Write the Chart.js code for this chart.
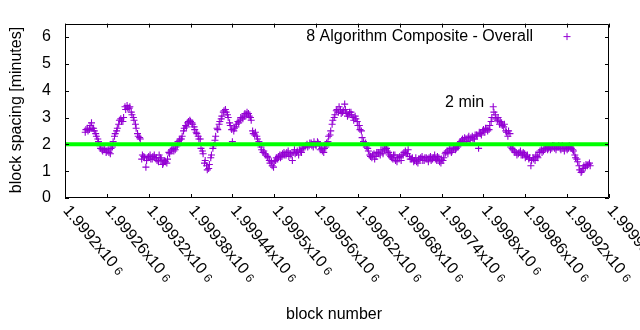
<!DOCTYPE html>
<html><head><meta charset="utf-8">
<script src="https://cdn.jsdelivr.net/npm/chart.js@4/dist/chart.umd.min.js"></script>
<style>html,body{margin:0;padding:0;background:#fff}#wrap{width:640px;height:330px}</style>
</head><body><div id="wrap"><canvas id="c" width="640" height="330"></canvas></div>
<script>
const blockNumbers = [
1999229,1999232,1999235,1999238,1999241,1999244,1999247,1999250,1999253,1999256,
1999259,1999262,1999265,1999268,1999271,1999274,1999277,1999280,1999283,1999286,
1999289,1999292,1999295,1999298,1999301,1999304,1999307,1999310,1999313,1999316,
1999319,1999322,1999325,1999328,1999331,1999334,1999337,1999340,1999343,1999346,
1999349,1999352,1999355,1999358,1999361,1999364,1999367,1999370,1999373,1999376,
1999379,1999382,1999385,1999388,1999391,1999394,1999397,1999400,1999403,1999406,
1999409,1999412,1999415,1999418,1999421,1999424,1999427,1999430,1999433,1999436,
1999439,1999442,1999445,1999448,1999451,1999454,1999457,1999460,1999463,1999466,
1999469,1999472,1999475,1999478,1999481,1999484,1999487,1999490,1999493,1999496,
1999499,1999502,1999505,1999508,1999511,1999514,1999517,1999520,1999523,1999526,
1999529,1999532,1999535,1999538,1999541,1999544,1999547,1999550,1999553,1999556,
1999559,1999562,1999565,1999568,1999571,1999574,1999577,1999580,1999583,1999586,
1999589,1999592,1999595,1999598,1999601,1999604,1999607,1999610,1999613,1999616,
1999619,1999622,1999625,1999628,1999631,1999634,1999637,1999640,1999643,1999646,
1999649,1999652,1999655,1999658,1999661,1999664,1999667,1999670,1999673,1999676,
1999679,1999682,1999685,1999688,1999691,1999694,1999697,1999700,1999703,1999706,
1999709,1999712,1999715,1999718,1999721,1999724,1999727,1999730,1999733,1999736,
1999739,1999742,1999745,1999748,1999751,1999754,1999757,1999760,1999763,1999766,
1999769,1999772,1999775,1999778,1999781,1999784,1999787,1999790,1999793,1999796,
1999799,1999802,1999805,1999808,1999811,1999814,1999817,1999820,1999823,1999826,
1999829,1999832,1999835,1999838,1999841,1999844,1999847,1999850,1999853,1999856,
1999859,1999862,1999865,1999868,1999871,1999874,1999877,1999880,1999883,1999886,
1999889,1999892,1999895,1999898,1999901,1999904,1999907,1999910,1999913,1999916,
1999919,1999922,1999925,1999928,1999931,1999934,1999937,1999940,1999943,1999946,
1999949,1999952
];
const spacingMinutes = [
2.45,2.6,2.55,2.8,2.6,2.4,2.2,1.95,1.8,1.85,
1.7,1.8,1.65,1.9,2.3,2.5,2.75,2.95,2.85,3.4,
3.45,3.35,3.2,3.0,2.75,2.4,2.25,1.45,1.55,1.15,
1.5,1.6,1.45,1.6,1.5,1.35,1.5,1.25,1.4,1.3,
1.7,1.75,1.85,1.8,1.95,2.15,2.2,2.5,2.7,2.8,
2.9,2.8,2.65,2.45,2.3,2.2,1.75,1.3,1.2,1.1,
1.5,1.85,2.15,2.6,2.75,2.95,3.2,3.3,3.1,2.8,
2.55,2.5,2.65,2.85,2.9,3.0,3.05,3.1,3.15,3.0,
2.5,2.35,2.3,2.1,1.9,1.7,1.65,1.55,1.4,1.35,
1.15,1.4,1.45,1.6,1.55,1.7,1.6,1.75,1.65,1.4,
1.8,1.7,1.6,1.75,1.85,1.9,2.0,1.95,2.05,1.9,
2.0,2.1,1.95,1.85,1.7,1.9,2.1,2.35,2.75,3.0,
3.25,3.2,3.3,3.2,3.5,3.15,3.1,3.2,3.0,3.05,
2.85,2.7,2.5,2.1,2.05,1.85,1.6,1.5,1.65,1.55,
1.7,1.6,1.75,1.8,1.85,1.7,1.55,1.45,1.6,1.35,
1.5,1.4,1.6,1.75,1.65,1.55,1.45,1.35,1.5,1.3,
1.45,1.55,1.4,1.5,1.35,1.55,1.45,1.6,1.4,1.5,
1.3,1.4,1.65,1.75,1.8,1.7,1.85,1.8,1.9,2.05,
2.15,2.1,2.2,2.25,2.15,2.3,2.2,2.35,1.85,2.4,
2.5,2.45,2.6,2.55,2.85,3.4,3.1,2.9,2.75,2.8,
2.65,2.5,2.3,2.4,1.85,1.75,1.7,1.65,1.75,1.6,
1.65,1.55,1.45,1.2,1.5,1.4,1.55,1.7,1.8,1.75,
1.85,1.8,1.9,1.85,1.95,1.8,1.9,1.85,1.95,1.75,
1.9,1.85,1.9,1.8,1.6,1.45,1.2,0.95,1.1,1.15,
1.2,1.3
];
const blockNumbersB = [
1999230,1999233,1999236,1999239,1999242,1999245,1999248,1999251,1999254,1999257,
1999260,1999263,1999266,1999269,1999272,1999275,1999278,1999281,1999284,1999287,
1999290,1999293,1999296,1999299,1999302,1999305,1999308,1999311,1999314,1999317,
1999320,1999323,1999326,1999329,1999332,1999335,1999338,1999341,1999344,1999347,
1999350,1999353,1999356,1999359,1999362,1999365,1999368,1999371,1999374,1999377,
1999380,1999383,1999386,1999389,1999392,1999395,1999398,1999401,1999404,1999407,
1999410,1999413,1999416,1999419,1999422,1999425,1999428,1999431,1999434,1999437,
1999440,1999443,1999446,1999449,1999452,1999455,1999458,1999461,1999464,1999467,
1999470,1999473,1999476,1999479,1999482,1999485,1999488,1999491,1999494,1999497,
1999500,1999503,1999506,1999509,1999512,1999515,1999518,1999521,1999524,1999527,
1999530,1999533,1999536,1999539,1999542,1999545,1999548,1999551,1999554,1999557,
1999560,1999563,1999566,1999569,1999572,1999575,1999578,1999581,1999584,1999587,
1999590,1999593,1999596,1999599,1999602,1999605,1999608,1999611,1999614,1999617,
1999620,1999623,1999626,1999629,1999632,1999635,1999638,1999641,1999644,1999647,
1999650,1999653,1999656,1999659,1999662,1999665,1999668,1999671,1999674,1999677,
1999680,1999683,1999686,1999689,1999692,1999695,1999698,1999701,1999704,1999707,
1999710,1999713,1999716,1999719,1999722,1999725,1999728,1999731,1999734,1999737,
1999740,1999743,1999746,1999749,1999752,1999755,1999758,1999761,1999764,1999767,
1999770,1999773,1999776,1999779,1999782,1999785,1999788,1999791,1999794,1999797,
1999800,1999803,1999806,1999809,1999812,1999815,1999818,1999821,1999824,1999827,
1999830,1999833,1999836,1999839,1999842,1999845,1999848,1999851,1999854,1999857,
1999860,1999863,1999866,1999869,1999872,1999875,1999878,1999881,1999884,1999887,
1999890,1999893,1999896,1999899,1999902,1999905,1999908,1999911,1999914,1999917,
1999920,1999923,1999926,1999929,1999932,1999935,1999938,1999941,1999944,1999947,
1999950,1999953
];
const spacingMinutesB = [
2.55,2.5,2.7,2.6,2.5,2.3,2.1,1.85,1.75,1.8,
1.75,1.7,1.85,2.1,2.4,2.6,2.9,2.85,3.0,3.3,
3.35,3.4,3.1,2.9,2.6,2.3,2.2,1.6,1.5,1.4,
1.55,1.45,1.55,1.5,1.4,1.6,1.45,1.3,1.35,1.45,
1.65,1.8,1.75,1.9,2.1,2.2,2.3,2.6,2.65,2.85,
2.85,2.75,2.55,2.4,2.2,1.85,1.65,1.4,1.05,1.25,
1.6,1.95,2.3,2.55,2.85,3.05,3.25,3.2,3.0,2.7,
2.1,2.6,2.75,2.8,3.0,2.95,3.15,3.2,3.05,2.9,
2.4,2.45,2.2,2.0,1.8,1.75,1.6,1.5,1.3,1.2,
1.35,1.5,1.55,1.5,1.65,1.6,1.7,1.55,1.6,1.7,
1.65,1.75,1.8,1.7,1.9,1.95,1.9,2.05,1.95,2.1,
1.95,2.05,1.8,1.75,1.85,2.05,2.3,2.5,2.9,3.1,
3.3,3.4,3.15,3.25,3.3,3.05,3.2,3.1,2.9,2.95,
2.7,2.55,2.25,2.0,1.9,1.75,1.55,1.6,1.45,1.7,
1.65,1.8,1.65,1.9,1.75,1.6,1.5,1.6,1.4,1.5,
1.55,1.6,1.7,1.65,1.8,1.45,1.5,1.4,1.35,1.45,
1.5,1.4,1.5,1.45,1.5,1.4,1.5,1.45,1.55,1.35,
1.45,1.5,1.7,1.65,1.85,1.75,1.9,1.85,1.95,2.1,
2.2,2.25,2.1,2.3,2.25,2.2,2.35,2.3,2.45,2.35,
2.55,2.6,2.5,2.7,3.0,3.2,2.95,3.0,2.85,2.7,
2.75,2.45,2.5,1.9,1.8,1.7,1.6,1.7,1.6,1.7,
1.5,1.6,1.5,1.4,1.45,1.6,1.5,1.75,1.7,1.85,
1.9,1.85,1.8,1.95,1.85,1.9,1.95,1.8,1.85,1.9,
1.8,1.95,1.85,1.75,1.5,1.35,1.05,1.0,1.2,1.25,
1.25,1.2
];
const targetBlocks = [1999200, 1999980];
const targetMinutes = [2, 2];
const xTickValues = [1999200,1999260,1999320,1999380,1999440,1999500,1999560,1999620,1999680,1999740,1999800,1999860,1999920,1999980];
const xTickLabels = ['1.9992','1.99926','1.99932','1.99938','1.99944','1.9995','1.99956','1.99962','1.99968','1.99974','1.9998','1.99986','1.99992','1.99998'];
const yTickValues = [0,1,2,3,4,5,6];
const seriesName = '8 Algorithm Composite - Overall';
const xTitle = 'block number';
const yTitle = 'block spacing [minutes]';
const annotationText = '2 min';
const annotationAt = {x: 1999773, y: 3.55};

const FONT = 'Liberation Sans, Arial, sans-serif';
const PURPLE = '#9400D3';
const LABEL_ANGLE = 50 * Math.PI / 180;

const decorPlugin = {
  id: 'decor',
  afterDraw(chart) {
    const ctx = chart.ctx;
    const a = chart.chartArea;
    const xs = chart.scales.x, ys = chart.scales.y;
    ctx.save();
    ctx.strokeStyle = '#000';
    ctx.lineWidth = 1;
    ctx.beginPath();
    ctx.rect(Math.round(a.left) + 0.5, Math.round(a.top) + 0.5, Math.round(a.right - a.left) - 1, Math.round(a.bottom - a.top) - 1);
    ctx.stroke();
    const T = 4;
    ctx.beginPath();
    xTickValues.forEach(v => {
      const px = Math.round(xs.getPixelForValue(v)) + 0.5;
      ctx.moveTo(px, a.bottom); ctx.lineTo(px, a.bottom - T);
      ctx.moveTo(px, a.top); ctx.lineTo(px, a.top + T);
    });
    yTickValues.forEach(v => {
      const py = Math.round(ys.getPixelForValue(v)) + 0.5;
      ctx.moveTo(a.left, py); ctx.lineTo(a.left + T, py);
      ctx.moveTo(a.right, py); ctx.lineTo(a.right - T, py);
    });
    ctx.stroke();
    ctx.fillStyle = '#000';
    xTickValues.forEach((v, i) => {
      const px = xs.getPixelForValue(v);
      ctx.save();
      ctx.translate(px + 1, a.bottom + 10);
      ctx.rotate(LABEL_ANGLE);
      ctx.font = '16px ' + FONT;
      ctx.textAlign = 'left';
      ctx.textBaseline = 'middle';
      const main = xTickLabels[i] + 'x10';
      ctx.fillText(main, 0, 0);
      const w = ctx.measureText(main).width;
      ctx.font = '12px ' + FONT;
      ctx.fillText('6', w + 4, 1);
      ctx.restore();
    });
    ctx.font = '16px ' + FONT;
    ctx.textAlign = 'center';
    ctx.textBaseline = 'middle';
    ctx.fillText(xTitle, 334, 315);
    ctx.save();
    ctx.translate(17, 110);
    ctx.rotate(-Math.PI / 2);
    ctx.fillText(yTitle, 0, 0);
    ctx.restore();
    ctx.textAlign = 'right';
    ctx.fillText(seriesName, a.right - 76, a.top + 13);
    ctx.strokeStyle = PURPLE;
    const lx = a.right - 42, ly = a.top + 13;
    ctx.beginPath();
    ctx.moveTo(lx - 3.5, ly); ctx.lineTo(lx + 3.5, ly);
    ctx.moveTo(lx, ly - 3.5); ctx.lineTo(lx, ly + 3.5);
    ctx.stroke();
    ctx.fillStyle = '#000';
    ctx.textAlign = 'center';
    ctx.fillText(annotationText, xs.getPixelForValue(annotationAt.x), ys.getPixelForValue(annotationAt.y));
    ctx.restore();
  }
};

const pointsA = blockNumbers.map((b, i) => ({x: b, y: spacingMinutes[i]}));
const pointsB = blockNumbersB.map((b, i) => ({x: b, y: spacingMinutesB[i]}));

new Chart(document.getElementById('c'), {
  type: 'scatter',
  data: {
    datasets: [
      {
        label: '2 min',
        type: 'line',
        data: targetBlocks.map((b, i) => ({x: b, y: targetMinutes[i]})),
        borderColor: '#00ff00',
        borderWidth: 4,
        pointRadius: 0,
        order: 0
      },
      {
        label: seriesName,
        data: pointsA.concat(pointsB),
        pointStyle: 'cross',
        pointRadius: 3.5,
        borderWidth: 1.1,
        borderColor: PURPLE,
        backgroundColor: PURPLE,
        order: 1
      }
    ]
  },
  options: {
    responsive: false,
    animation: false,
    devicePixelRatio: 1,
    layout: {padding: {top: 19, right: 31, left: 0, bottom: 0}},
    plugins: {legend: {display: false}, tooltip: {enabled: false}},
    scales: {
      x: {
        type: 'linear', min: 1999200, max: 1999980,
        grid: {display: false, drawTicks: false},
        border: {display: false},
        ticks: {display: false},
        afterFit(s) { s.height = 132; }
      },
      y: {
        type: 'linear', min: 0, max: 6.5,
        grid: {display: false, drawTicks: false},
        border: {display: false},
        afterBuildTicks(s) { s.ticks = yTickValues.map(v => ({value: v})); },
        ticks: {color: '#000', padding: 14, font: {family: FONT, size: 16}},
        afterFit(s) { s.width = 65; }
      }
    }
  },
  plugins: [decorPlugin]
});
</script>
</body></html>
